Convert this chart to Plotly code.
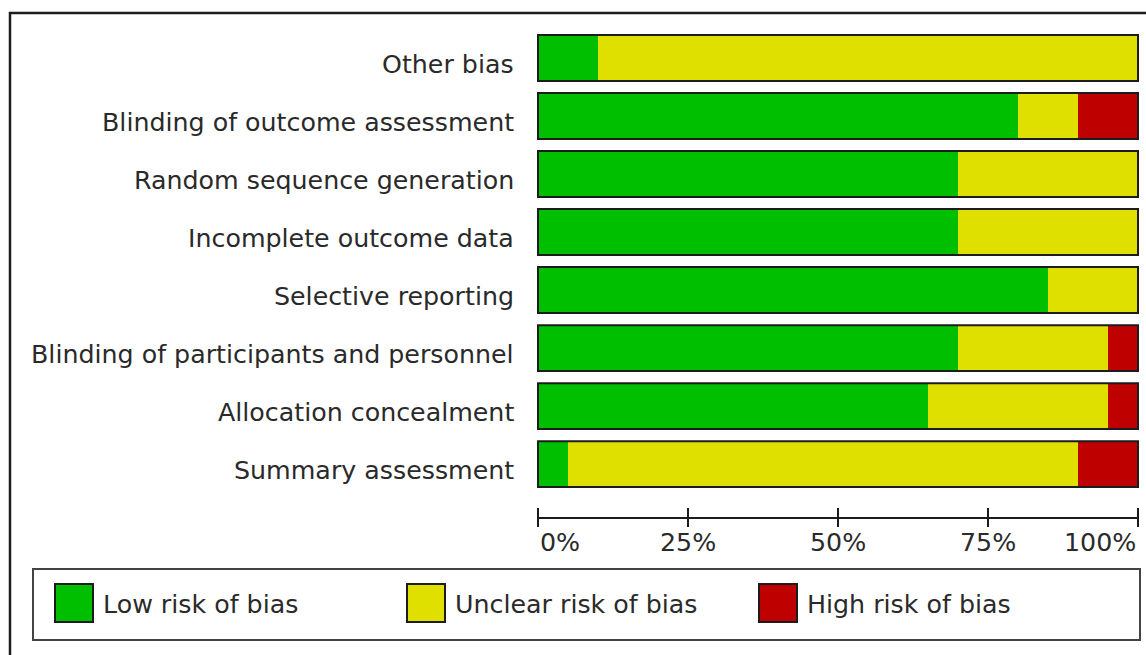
import plotly.graph_objects as go

# Risk-of-bias domains (top to bottom) and percentage of studies per judgement
domains = [
    "Other bias",
    "Blinding of outcome assessment",
    "Random sequence generation",
    "Incomplete outcome data",
    "Selective reporting",
    "Blinding of participants and personnel",
    "Allocation concealment",
    "Summary assessment",
]
low_risk = [10, 80, 70, 70, 85, 70, 65, 5]
unclear_risk = [90, 10, 30, 30, 15, 25, 30, 85]
high_risk = [0, 10, 0, 0, 0, 5, 5, 10]

tick_values = [0, 25, 50, 75, 100]
tick_labels = ["0%", "25%", "50%", "75%", "100%"]
legend_labels = ["Low risk of bias", "Unclear risk of bias", "High risk of bias"]

GREEN = "#00BF00"
YELLOW = "#DFDF00"
RED = "#BF0000"
EDGE = "#1c1c1c"
TEXT = "#2a2a2a"
FONT = "DejaVu Sans"
FS = 25.3

W, H = 1146, 655
ML, MR, MT, MB = 536, 6, 29, 137
PW, PH = W - ML - MR, H - MT - MB


def px_x(px):
    return (px - ML) / PW


def px_y(py):
    return (H - MB - py) / PH


# cumulative ends so the overlaid bars read as one stacked bar per domain
upto_unclear = [a + b for a, b in zip(low_risk, unclear_risk)]
totals = [a + b + c for a, b, c in zip(low_risk, unclear_risk, high_risk)]

fig = go.Figure()
bar_w = 0.79
for vals, col in [(totals, RED), (upto_unclear, YELLOW), (low_risk, GREEN)]:
    fig.add_trace(go.Bar(
        y=domains, x=vals, orientation="h", width=bar_w,
        marker=dict(color=col, line=dict(width=0)),
        showlegend=False, hoverinfo="skip",
    ))
# outline around each whole bar
fig.add_trace(go.Bar(
    y=domains, x=totals, orientation="h", width=bar_w,
    marker=dict(color="rgba(0,0,0,0)", line=dict(color=EDGE, width=2)),
    showlegend=False, hoverinfo="skip",
))

shapes = []
annotations = []

# domain names, right-aligned left of the bars
for d in domains:
    annotations.append(dict(x=px_x(516), y=d, xref="paper", yref="y", text=d,
                            showarrow=False, xanchor="right", yanchor="middle",
                            yshift=-6, font=dict(family=FONT, size=FS, color=TEXT)))

# percentage axis line and crossing tick marks
shapes.append(dict(type="line", xref="x", yref="paper", x0=0, x1=100, y0=0, y1=0,
                   line=dict(color=EDGE, width=2)))
for tv in tick_values:
    shapes.append(dict(type="line", xref="x", yref="paper", x0=tv, x1=tv,
                       y0=px_y(527), y1=px_y(508), line=dict(color=EDGE, width=2)))

for tv, tl in zip(tick_values, tick_labels):
    anchor = "left" if tv == tick_values[0] else ("right" if tv == tick_values[-1] else "center")
    annotations.append(dict(x=tv, y=px_y(542), xref="x", yref="paper", text=tl,
                            showarrow=False, xanchor=anchor, yanchor="middle",
                            font=dict(family=FONT, size=FS, color=TEXT)))

# outer frame
shapes.append(dict(type="rect", xref="paper", yref="paper",
                   x0=px_x(10), x1=px_x(1170), y0=px_y(13), y1=px_y(690),
                   line=dict(color=EDGE, width=2.5), fillcolor="rgba(0,0,0,0)"))
# legend box
shapes.append(dict(type="rect", xref="paper", yref="paper",
                   x0=px_x(33), x1=px_x(1140), y0=px_y(569), y1=px_y(640),
                   line=dict(color="#444444", width=2), fillcolor="rgba(0,0,0,0)"))
legend_x = [55, 407, 759]
for lx, col, lab in zip(legend_x, [GREEN, YELLOW, RED], legend_labels):
    shapes.append(dict(type="rect", xref="paper", yref="paper",
                       x0=px_x(lx), x1=px_x(lx + 38), y0=px_y(584), y1=px_y(622),
                       line=dict(color=EDGE, width=2), fillcolor=col))
    annotations.append(dict(x=px_x(lx + 46), y=px_y(604), xref="paper", yref="paper",
                            text=lab, showarrow=False, xanchor="left", yanchor="middle",
                            font=dict(family=FONT, size=FS, color=TEXT)))

fig.update_layout(
    width=W, height=H,
    margin=dict(l=ML, r=MR, t=MT, b=MB, pad=0),
    barmode="overlay",
    paper_bgcolor="white", plot_bgcolor="white",
    xaxis=dict(range=[-0.333, 100.333], showgrid=False, zeroline=False,
               showline=False, showticklabels=False, ticks="", fixedrange=True),
    yaxis=dict(categoryorder="array", categoryarray=domains,
               range=[7.93, -0.5], showgrid=False, zeroline=False, showline=False,
               ticks="", showticklabels=False, fixedrange=True),
    shapes=shapes, annotations=annotations,
)

fig.write_html("out.html")
